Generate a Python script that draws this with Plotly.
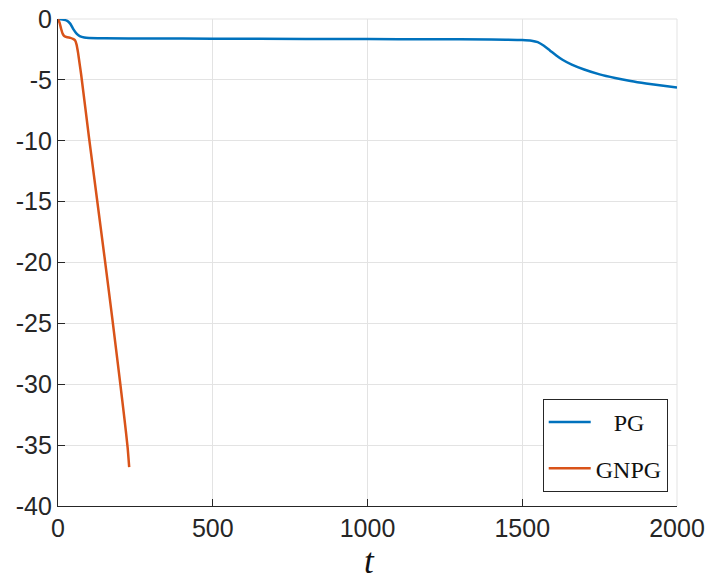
import plotly.graph_objects as go

# PG series
pg_t = [0, 15, 30, 40, 50, 60, 70, 85, 100, 150, 300, 500, 800, 1000, 1200, 1400, 1500, 1530, 1550, 1570, 1590, 1610, 1630, 1660, 1700, 1750, 1800, 1850, 1900, 1950, 2000]
pg_y = [0, -0.05, -0.15, -0.4, -0.85, -1.2, -1.4, -1.52, -1.56, -1.58, -1.6, -1.62, -1.64, -1.65, -1.66, -1.68, -1.72, -1.78, -1.9, -2.2, -2.6, -3.0, -3.35, -3.75, -4.15, -4.55, -4.85, -5.1, -5.3, -5.47, -5.62]

# GNPG series
gn_t = [0, 5, 10, 15, 20, 30, 40, 50, 55, 60, 65, 70, 75, 100, 125, 150, 175, 200, 215, 225, 230]
gn_y = [0, -0.3, -0.8, -1.2, -1.4, -1.5, -1.55, -1.65, -1.75, -2.1, -2.8, -3.7, -4.6, -9.7, -14.6, -19.5, -24.5, -29.7, -32.9, -35.2, -36.8]

x_ticks = [0, 500, 1000, 1500, 2000]
y_ticks = [0, -5, -10, -15, -20, -25, -30, -35, -40]

fig = go.Figure()
fig.add_trace(go.Scatter(x=pg_t, y=pg_y, mode="lines", name="\u00a0\u00a0\u00a0PG",
                         line=dict(color="#0072BD", width=2.5, shape="spline", smoothing=0.6),
                         legendgroup="a"))
fig.add_trace(go.Scatter(x=gn_t, y=gn_y, mode="lines", name="GNPG",
                         line=dict(color="#D95319", width=2.5, shape="spline", smoothing=0.4),
                         legendgroup="b"))

axis_common = dict(
    showgrid=True, gridcolor="#E3E3E3", gridwidth=1,
    zeroline=False, showline=True, linecolor="#262626", linewidth=1.2,
    ticks="inside", ticklen=7, tickcolor="#262626", tickwidth=1,
    tickfont=dict(family="Liberation Sans, Arial, sans-serif", size=25, color="#262626"),
    mirror=False, automargin=False,
)

fig.update_layout(
    width=709, height=582,
    margin=dict(l=58, r=32, t=19, b=76),
    paper_bgcolor="white", plot_bgcolor="white",
    xaxis=dict(range=[0, 2000], tickvals=x_ticks, ticktext=[str(v) for v in x_ticks],
               **axis_common),
    yaxis=dict(range=[-40, 0], tickvals=y_ticks, ticktext=[str(v) for v in y_ticks],
               **axis_common),
    legend=dict(x=0.985, y=0.029, xanchor="right", yanchor="bottom",
                bordercolor="#262626", borderwidth=1, bgcolor="white",
                font=dict(family="Liberation Serif, serif", size=24, color="#111111"),
                tracegroupgap=12, traceorder="grouped", itemwidth=42),
    showlegend=True,
)

fig.add_annotation(text="<i>t</i>", xref="paper", yref="paper", x=0.504, y=-(561 - 506) / 487,
                   xanchor="center", yanchor="middle", showarrow=False,
                   font=dict(family="Liberation Serif, serif", size=35, color="#111111"))

# light frame at top and right (grid-coloured box edges)
fig.add_shape(type="line", xref="paper", yref="paper", x0=0, x1=1, y0=1, y1=1,
              line=dict(color="#E3E3E3", width=1), layer="below")
fig.add_shape(type="line", xref="paper", yref="paper", x0=1, x1=1, y0=0, y1=1,
              line=dict(color="#E3E3E3", width=1), layer="below")

fig.write_html("out.html")
